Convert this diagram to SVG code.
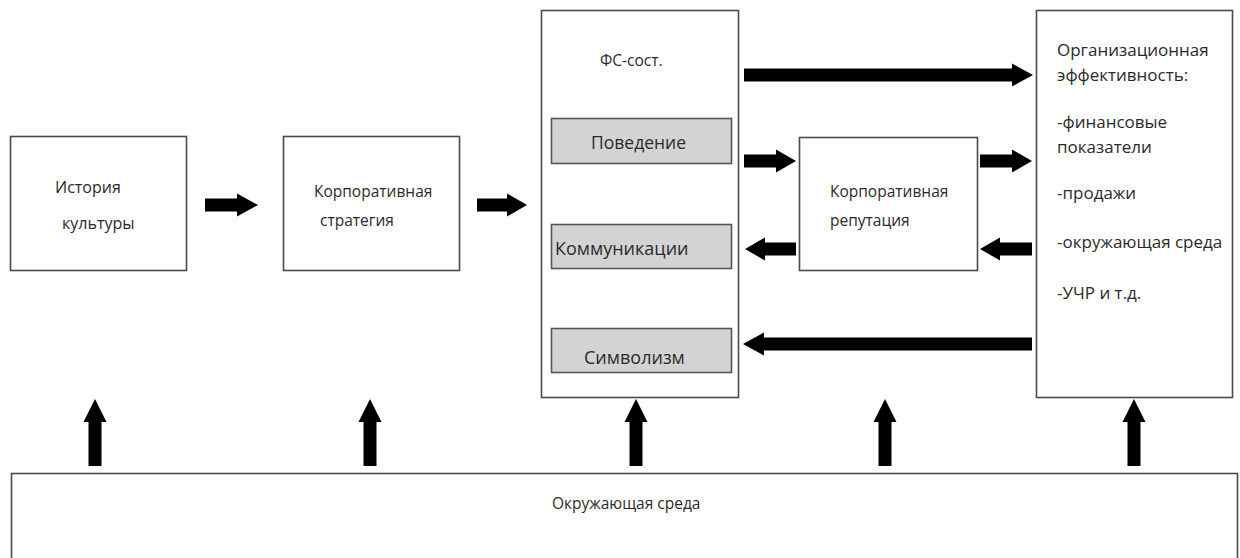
<svg xmlns="http://www.w3.org/2000/svg" width="1240" height="558" viewBox="0 0 1240 558">
<style>
.box{fill:#fff;stroke:#4a4a4a;stroke-width:1.6}
.sub{fill:#d3d3d3;stroke:#555;stroke-width:1.6}
.t{font-family:"Open Sans","Noto Sans","DejaVu Sans",sans-serif;fill:#2a2a2a}
.s155{font-size:15.5px}
.s16{font-size:16px}
.s17{font-size:17px}
.s18{font-size:18px}
.arr{fill:#000}
</style>
<rect width="1240" height="558" fill="#fff"/>
<g id="history">
<rect class="box" x="10.5" y="136.5" width="176" height="134"/>
<text class="t s16" x="55" y="193">История</text>
<text class="t s16" x="62" y="229">культуры</text>
</g>
<g id="strategy">
<rect class="box" x="283.5" y="136.5" width="176" height="134"/>
<text class="t s155" x="314" y="197">Корпоративная</text>
<text class="t s155" x="320" y="226">стратегия</text>
</g>
<g id="fs">
<rect class="box" x="541.5" y="10.5" width="197" height="387"/>
<text class="t" font-size="15.5" x="600" y="66">ФС-сост.</text>
</g>
<g id="behavior">
<rect class="sub" x="551.5" y="118.5" width="180" height="45"/>
<text class="t" font-size="17.5" x="591" y="149">Поведение</text>
</g>
<g id="communications">
<rect class="sub" x="551.5" y="224.5" width="180" height="44"/>
<text class="t s18" x="555" y="255">Коммуникации</text>
</g>
<g id="symbolism">
<rect class="sub" x="551.5" y="328.5" width="180" height="44"/>
<text class="t s18" x="584" y="364">Символизм</text>
</g>
<g id="reputation">
<rect class="box" x="799.5" y="137.5" width="178" height="133"/>
<text class="t s155" x="830" y="197">Корпоративная</text>
<text class="t s155" x="830" y="226">репутация</text>
</g>
<g id="effectiveness">
<rect class="box" x="1036.5" y="10.5" width="196" height="387"/>
<text class="t s17" x="1057" y="56">Организационная</text>
<text class="t s17" x="1057" y="81">эффективность:</text>
<text class="t s17" x="1057" y="128">-финансовые</text>
<text class="t s17" x="1057" y="153">показатели</text>
<text class="t s17" x="1057" y="199">-продажи</text>
<text class="t s17" x="1057" y="248">-окружающая среда</text>
<text class="t s17" x="1057" y="299">-УЧР и т.д.</text>
</g>
<g id="environment">
<rect class="box" x="11.5" y="473.5" width="1226" height="100"/>
<text class="t s155" x="552" y="509">Окружающая среда</text>
</g>
<g id="connectors">
<path class="arr" d="M205,198.5H237V193.5L258,205L237,216.5V211.5H205Z"/>
<path class="arr" d="M477,198.5H507V193.5L527,205L507,216.5V211.5H477Z"/>
<path class="arr" d="M744,68.5H1012V63.5L1033,75L1012,86.5V81.5H744Z"/>
<path class="arr" d="M744,154.5H776V149.5L796,161L776,172.5V167.5H744Z"/>
<path class="arr" d="M980,154.5H1012V149.5L1032,161L1012,172.5V167.5H980Z"/>
<path class="arr" d="M796,242.5H765V237.5L745,249L765,260.5V255.5H796Z"/>
<path class="arr" d="M1032,242.5H1000V237.5L980,249L1000,260.5V255.5H1032Z"/>
<path class="arr" d="M1032,337.5H764V332.5L743,344L764,355.5V350.5H1032Z"/>
<path class="arr" d="M88.5,466V422H83.5L95,399L106.5,422H101.5V466Z"/>
<path class="arr" d="M363.5,466V422H358.5L370,399L381.5,422H376.5V466Z"/>
<path class="arr" d="M629.5,466V422H624.5L636,399L647.5,422H642.5V466Z"/>
<path class="arr" d="M878.5,466V422H873.5L885,399L896.5,422H891.5V466Z"/>
<path class="arr" d="M1127.5,466V422H1122.5L1134,399L1145.5,422H1140.5V466Z"/>
</g>
</svg>
